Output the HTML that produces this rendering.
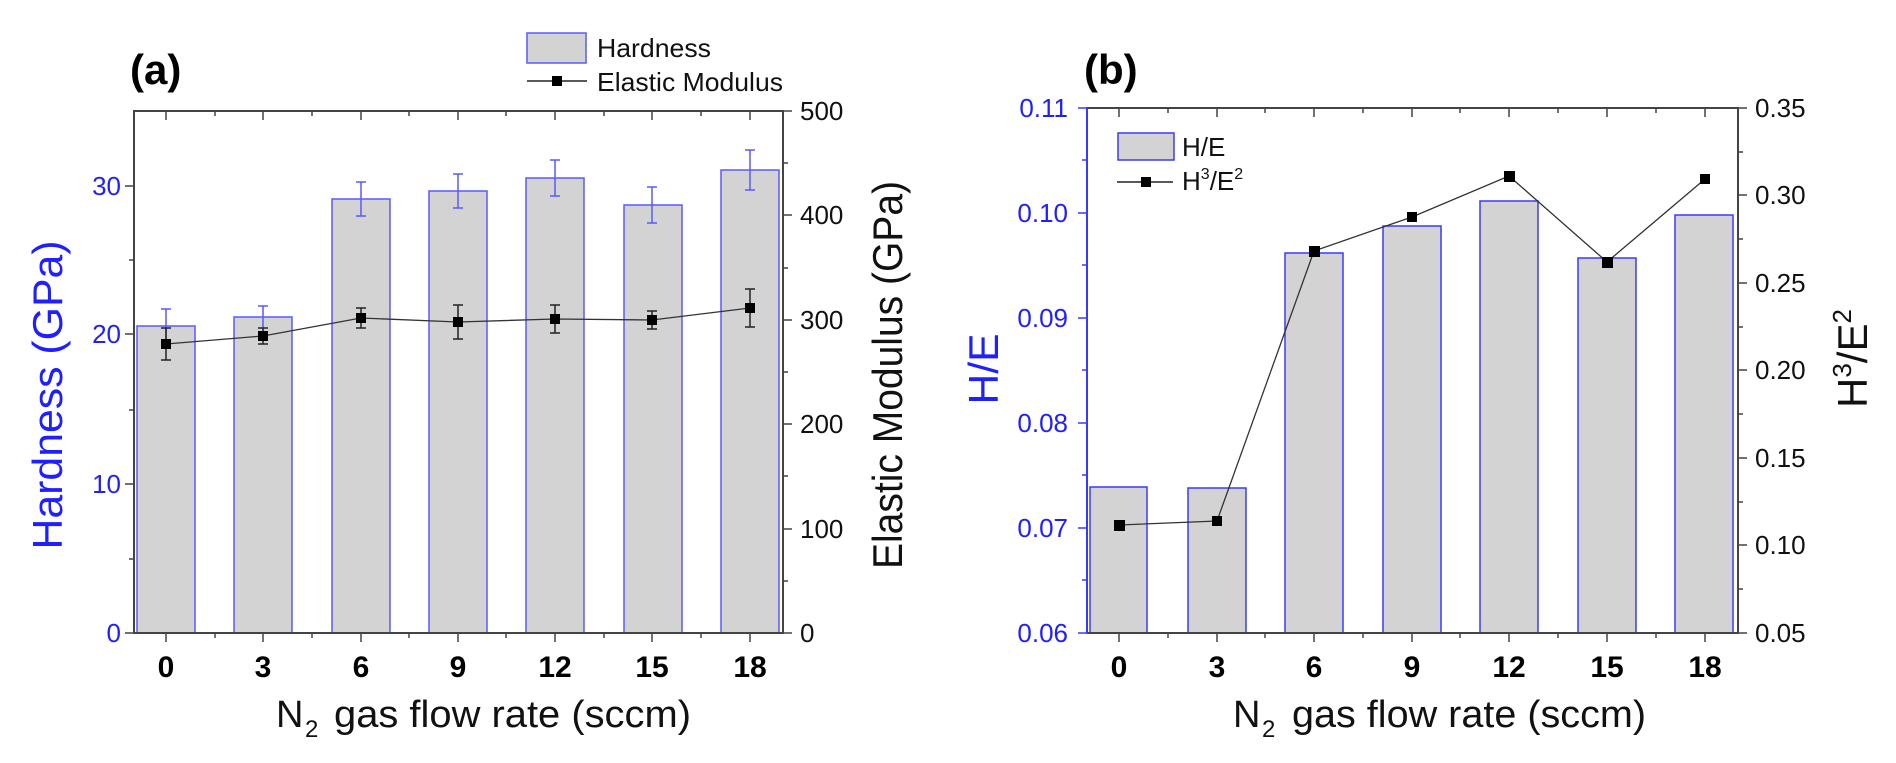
<!DOCTYPE html>
<html><head><meta charset="utf-8"><style>
html,body{margin:0;padding:0;background:#fff;}
svg{display:block;font-family:"Liberation Sans",Arial,sans-serif;}
</style></head><body>
<svg width="1896" height="763" viewBox="0 0 1896 763" xmlns="http://www.w3.org/2000/svg">
<rect width="1896" height="763" fill="#fff"/>

<!-- ============ PANEL A ============ -->
<text x="130" y="84" font-size="42" font-weight="bold">(a)</text>
<!-- bars -->
<g fill="#d3d3d3" stroke="#5a5aff" stroke-width="1.5">
<rect x="137" y="326" width="58" height="307"/>
<rect x="234" y="317" width="58" height="316"/>
<rect x="332" y="199" width="58" height="434"/>
<rect x="429" y="191" width="58" height="442"/>
<rect x="526" y="178" width="58" height="455"/>
<rect x="624" y="205" width="58" height="428"/>
<rect x="721" y="170" width="58" height="463"/>
</g>
<!-- hardness error bars -->
<g stroke="#5a5aff" stroke-width="1.5">
<path d="M166 309V343M161 309H171"/>
<path d="M263 306V328M258 306H268"/>
<path d="M361 182V216M356 182H366M356 216H366"/>
<path d="M458 174V208M453 174H463M453 208H463"/>
<path d="M555 160V196M550 160H560M550 196H560"/>
<path d="M652 187V223M647 187H657M647 223H657"/>
<path d="M750 150V190M745 150H755M745 190H755"/>
</g>
<!-- EM line -->
<polyline points="166,344 263,336 361,318 458,322 555,319 652,320 750,308" fill="none" stroke="#333" stroke-width="1.3"/>
<g stroke="#222" stroke-width="1.5">
<path d="M166 328V360M161 328H171M161 360H171"/>
<path d="M263 328V344M258 328H268M258 344H268"/>
<path d="M361 308V328M356 308H366M356 328H366"/>
<path d="M458 305V339M453 305H463M453 339H463"/>
<path d="M555 305V333M550 305H560M550 333H560"/>
<path d="M652 311V329M647 311H657M647 329H657"/>
<path d="M750 289V327M745 289H755M745 327H755"/>
</g>
<g fill="#000">
<rect x="161" y="339" width="10" height="10"/>
<rect x="258" y="331" width="10" height="10"/>
<rect x="356" y="313" width="10" height="10"/>
<rect x="453" y="317" width="10" height="10"/>
<rect x="550" y="314" width="10" height="10"/>
<rect x="647" y="315" width="10" height="10"/>
<rect x="745" y="303" width="10" height="10"/>
</g>
<!-- frame -->
<rect x="134" y="111" width="649" height="522" fill="none" stroke="#444" stroke-width="2"/>
<g stroke="#444" stroke-width="1.5">
<!-- bottom ticks -->
<path d="M166 633V642M263 633V642M361 633V642M458 633V642M555 633V642M652 633V642M750 633V642"/>
<path d="M215 633V638M312 633V638M409 633V638M506 633V638M604 633V638M701 633V638"/>
<!-- top ticks -->
<path d="M166 111V120M263 111V120M361 111V120M458 111V120M555 111V120M652 111V120M750 111V120"/>
<path d="M215 111V116M312 111V116M409 111V116M506 111V116M604 111V116M701 111V116"/>
<!-- left ticks -->
<path d="M125 633H134M125 484H134M125 334H134M125 186H134"/>
<path d="M129 559H134M129 410H134M129 260H134"/>
<!-- right ticks -->
<path d="M783 633H792M783 529H792M783 424H792M783 320H792M783 215H792M783 111H792"/>
<path d="M783 581H788M783 476H788M783 372H788M783 268H788M783 163H788"/>
</g>
<!-- left tick labels -->
<g fill="#2020ff" font-size="26" text-anchor="end">
<text x="121" y="642">0</text>
<text x="121" y="493">10</text>
<text x="121" y="343">20</text>
<text x="121" y="195">30</text>
</g>
<!-- right tick labels -->
<g fill="#111" font-size="26">
<text x="800" y="642">0</text>
<text x="800" y="538">100</text>
<text x="800" y="433">200</text>
<text x="800" y="329">300</text>
<text x="800" y="224">400</text>
<text x="800" y="120">500</text>
</g>
<!-- x labels -->
<g fill="#000" font-size="30" font-weight="bold" text-anchor="middle">
<text x="166" y="677">0</text>
<text x="263" y="677">3</text>
<text x="361" y="677">6</text>
<text x="458" y="677">9</text>
<text x="555" y="677">12</text>
<text x="652" y="677">15</text>
<text x="750" y="677">18</text>
</g>
<!-- titles -->
<text x="276" y="727" font-size="38" fill="#111">N</text>
<text x="305" y="737" font-size="24" fill="#111">2</text>
<text x="334" y="727" font-size="38" fill="#111" textLength="357" lengthAdjust="spacingAndGlyphs">gas flow rate (sccm)</text>
<text transform="translate(62,395) rotate(-90)" text-anchor="middle" font-size="42" fill="#2020ff" textLength="309" lengthAdjust="spacingAndGlyphs">Hardness (GPa)</text>
<text transform="translate(902,375) rotate(-90)" text-anchor="middle" font-size="42" fill="#111" textLength="388" lengthAdjust="spacingAndGlyphs">Elastic Modulus (GPa)</text>
<!-- legend a -->
<rect x="527" y="33" width="59" height="30" fill="#d3d3d3" stroke="#5a5aff" stroke-width="1.5"/>
<text x="597" y="57" font-size="26" fill="#111" textLength="114" lengthAdjust="spacingAndGlyphs">Hardness</text>
<path d="M527 81H587" stroke="#222" stroke-width="1.5"/>
<rect x="552" y="76" width="10" height="10" fill="#000"/>
<text x="597" y="91" font-size="26" fill="#111" textLength="186" lengthAdjust="spacingAndGlyphs">Elastic Modulus</text>

<!-- ============ PANEL B ============ -->
<text x="1084" y="84" font-size="42" font-weight="bold">(b)</text>
<g fill="#d3d3d3" stroke="#3a3aff" stroke-width="1.5">
<rect x="1090" y="487" width="57" height="146"/>
<rect x="1188" y="488" width="58" height="145"/>
<rect x="1285" y="253" width="58" height="380"/>
<rect x="1383" y="226" width="58" height="407"/>
<rect x="1480" y="201" width="58" height="432"/>
<rect x="1578" y="258" width="58" height="375"/>
<rect x="1675" y="215" width="58" height="418"/>
</g>
<polyline points="1119,525 1217,521 1314,251 1412,217 1509,176 1607,262 1705,179" fill="none" stroke="#333" stroke-width="1.3"/>
<g fill="#000">
<rect x="1114" y="520" width="11" height="11"/>
<rect x="1212" y="516" width="10" height="10"/>
<rect x="1309" y="246" width="11" height="11"/>
<rect x="1407" y="212" width="10" height="10"/>
<rect x="1504" y="171" width="11" height="11"/>
<rect x="1602" y="257" width="11" height="11"/>
<rect x="1700" y="174" width="10" height="10"/>
</g>
<!-- frame -->
<path d="M1087 108H1738V633H1087" fill="none" stroke="#444" stroke-width="2"/>
<path d="M1087 107V634" stroke="#3a3aff" stroke-width="2"/>
<g stroke="#444" stroke-width="1.5">
<path d="M1119 633V642M1217 633V642M1314 633V642M1412 633V642M1509 633V642M1607 633V642M1705 633V642"/>
<path d="M1168 633V638M1265 633V638M1363 633V638M1460 633V638M1558 633V638M1656 633V638"/>
<path d="M1119 108V117M1217 108V117M1314 108V117M1412 108V117M1509 108V117M1607 108V117M1705 108V117"/>
<path d="M1168 108V113M1265 108V113M1363 108V113M1460 108V113M1558 108V113M1656 108V113"/>
<path d="M1738 633H1747M1738 545H1747M1738 458H1747M1738 370H1747M1738 283H1747M1738 195H1747M1738 108H1747"/>
<path d="M1738 589H1743M1738 502H1743M1738 414H1743M1738 327H1743M1738 239H1743M1738 152H1743"/>
</g>
<g stroke="#3a3aff" stroke-width="1.5">
<path d="M1078 633H1087M1078 528H1087M1078 423H1087M1078 318H1087M1078 213H1087M1078 108H1087"/>
<path d="M1082 580H1087M1082 475H1087M1082 370H1087M1082 265H1087M1082 160H1087"/>
</g>
<g fill="#2020ff" font-size="26" text-anchor="end">
<text x="1068" y="642">0.06</text>
<text x="1068" y="537">0.07</text>
<text x="1068" y="432">0.08</text>
<text x="1068" y="327">0.09</text>
<text x="1068" y="222">0.10</text>
<text x="1068" y="117">0.11</text>
</g>
<g fill="#111" font-size="26">
<text x="1755" y="642">0.05</text>
<text x="1755" y="554">0.10</text>
<text x="1755" y="467">0.15</text>
<text x="1755" y="379">0.20</text>
<text x="1755" y="292">0.25</text>
<text x="1755" y="204">0.30</text>
<text x="1755" y="117">0.35</text>
</g>
<g fill="#000" font-size="30" font-weight="bold" text-anchor="middle">
<text x="1119" y="677">0</text>
<text x="1217" y="677">3</text>
<text x="1314" y="677">6</text>
<text x="1412" y="677">9</text>
<text x="1509" y="677">12</text>
<text x="1607" y="677">15</text>
<text x="1705" y="677">18</text>
</g>
<text x="1233" y="727" font-size="38" fill="#111">N</text>
<text x="1262" y="737" font-size="24" fill="#111">2</text>
<text x="1292" y="727" font-size="38" fill="#111" textLength="354" lengthAdjust="spacingAndGlyphs">gas flow rate (sccm)</text>
<text transform="translate(998,369) rotate(-90)" text-anchor="middle" font-size="42" fill="#2020ff" textLength="71" lengthAdjust="spacingAndGlyphs">H/E</text>
<text transform="translate(1867,408) rotate(-90)" font-size="42" fill="#111">H<tspan font-size="26" dy="-16">3</tspan><tspan dy="16">/E</tspan><tspan font-size="26" dy="-16">2</tspan></text>
<!-- legend b -->
<rect x="1118" y="133" width="56" height="27" fill="#d3d3d3" stroke="#3a3aff" stroke-width="1.5"/>
<text x="1182" y="156" font-size="26" fill="#111">H/E</text>
<path d="M1117 182H1173" stroke="#222" stroke-width="1.5"/>
<rect x="1141" y="177" width="10" height="10" fill="#000"/>
<text x="1182" y="190" font-size="26" fill="#111">H<tspan font-size="16" dy="-11">3</tspan><tspan dy="11">/E</tspan><tspan font-size="16" dy="-11">2</tspan></text>
</svg>
</body></html>
